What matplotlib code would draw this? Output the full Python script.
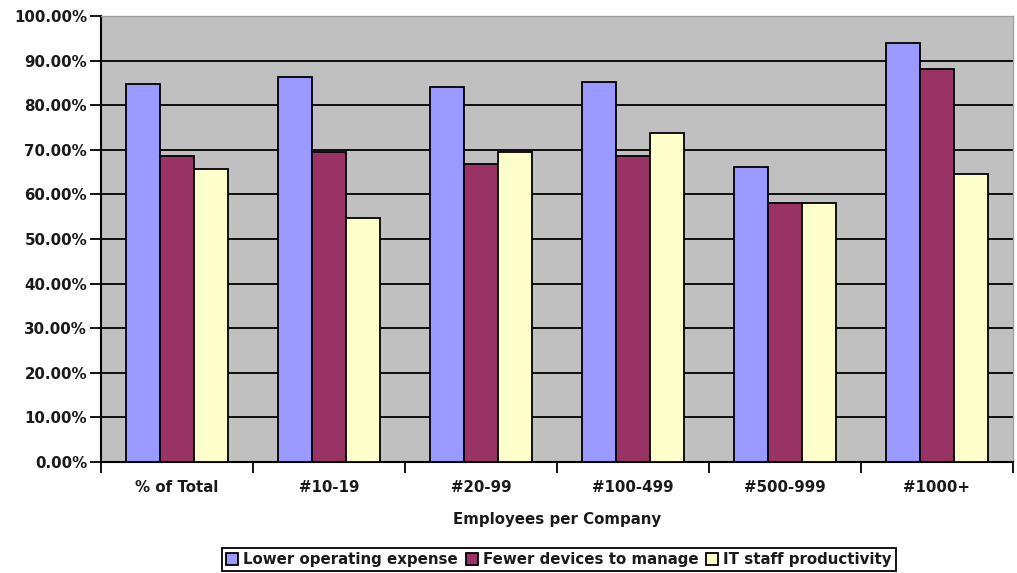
import matplotlib
matplotlib.use("Agg")
import matplotlib.pyplot as plt
import numpy as np
from matplotlib.ticker import FixedLocator, PercentFormatter

categories = ["% of Total", "#10-19", "#20-99", "#100-499", "#500-999", "#1000+"]
lower_opex = [84.8, 86.4, 84.1, 85.2, 66.2, 94.0]
fewer_devices = [68.6, 69.6, 66.8, 68.5, 58.1, 88.1]
it_staff = [65.6, 54.7, 69.5, 73.8, 58.1, 64.5]
series_names = ["Lower operating expense", "Fewer devices to manage", "IT staff productivity"]
colors = ["#9999FF", "#993366", "#FFFFCC"]

plt.rcParams['font.family'] = ['DejaVu Sans']
plt.rcParams['font.weight'] = 'bold'
FS = 10.8
TXT = '#1a1a1a'

W, H = 1017, 573
fig = plt.figure(figsize=(W/100, H/100), dpi=100)
ax = fig.add_axes([101/W, 1-462/H, (1013-101)/W, (462-16)/H])
ax.set_facecolor("#C0C0C0")

x = np.arange(len(categories))
bw = 1/4.5
for i, (vals, name, c) in enumerate(zip([lower_opex, fewer_devices, it_staff], series_names, colors)):
    ax.bar(x + (i-1)*bw, vals, bw, color=c, edgecolor="black", linewidth=1.3, label=name, zorder=3)

ax.set_xlim(-0.5, len(categories)-0.5)
ax.set_ylim(0, 100)
ax.set_yticks(np.arange(0, 101, 10))
ax.yaxis.set_major_formatter(PercentFormatter(decimals=2))
ax.grid(axis='y', color='black', linewidth=1.3, zorder=1)

ax.set_xticks(np.arange(-0.5, len(categories), 1))
ax.set_xticklabels([])
ax.xaxis.set_minor_locator(FixedLocator(x))
ax.set_xticks(x, minor=True)
ax.set_xticklabels(categories, minor=True)
ax.tick_params(axis='x', which='minor', length=0, pad=13, labelsize=FS, labelcolor=TXT)
ax.tick_params(axis='x', which='major', length=8, width=1.3, direction='out')
ax.tick_params(axis='y', length=8, width=1.3, direction='out', labelsize=FS, pad=2, labelcolor=TXT)

for s in ['left', 'bottom']:
    ax.spines[s].set_color('black')
    ax.spines[s].set_linewidth(1.5)
for s in ['top', 'right']:
    ax.spines[s].set_color('#A0A0A0')
    ax.spines[s].set_linewidth(1.0)

ax.set_xlabel("Employees per Company", fontsize=FS, fontweight='bold', labelpad=12, color=TXT)

leg = fig.legend(loc='center', bbox_to_anchor=(559/W, 1-559.5/H), ncol=3, fontsize=FS,
                 frameon=True, fancybox=False, edgecolor='black', framealpha=1,
                 handlelength=0.8, handleheight=0.8, handletextpad=0.35, columnspacing=0.5,
                 borderpad=0.25, borderaxespad=0, labelcolor=TXT)
leg.get_frame().set_linewidth(1.3)

fig.savefig("out.png", dpi=100)
